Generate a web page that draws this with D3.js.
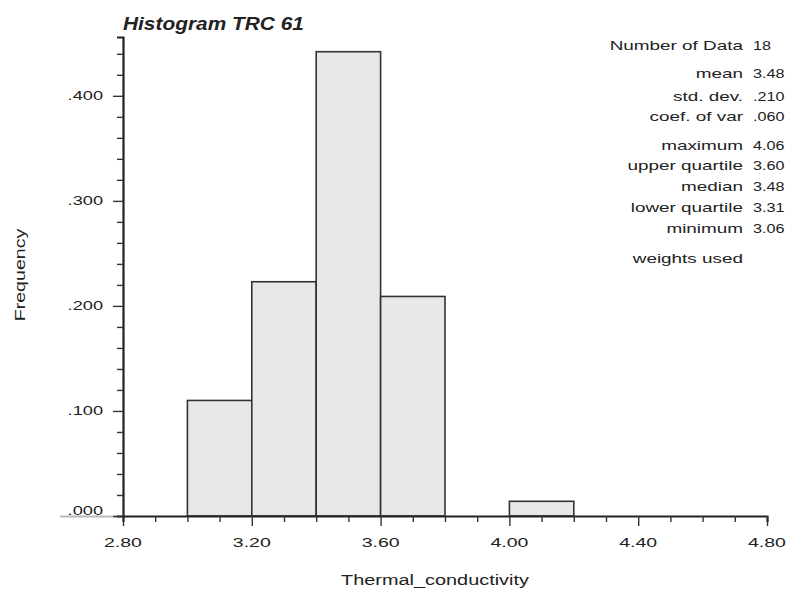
<!DOCTYPE html>
<html>
<head>
<meta charset="utf-8">
<script src="https://cdn.jsdelivr.net/npm/d3@7"></script>
<style>
  body { margin: 0; background: #fff; }
  text { font-family: "Liberation Sans", Arial, sans-serif; fill: #222; }
</style>
</head>
<body>
<svg id="chart"></svg>
<script>
// histogram classes (lower edge, upper edge) and their frequencies
const binStart = [3.0, 3.2, 3.4, 3.6, 3.8, 4.0];
const binEnd   = [3.2, 3.4, 3.6, 3.8, 4.0, 4.2];
const frequency = [0.110, 0.223, 0.442, 0.209, 0.0, 0.014];

const xTicks = [2.8, 3.2, 3.6, 4.0, 4.4, 4.8];
const yTicks = [0, 0.1, 0.2, 0.3, 0.4];

const statLabels = ["Number of Data", "mean", "std. dev.", "coef. of var",
  "maximum", "upper quartile", "median", "lower quartile", "minimum", "weights used"];
const statValues = ["18", "3.48", ".210", ".060",
  "4.06", "3.60", "3.48", "3.31", "3.06", ""];

const width = 787, height = 589;
const margin = {top: 37, right: 20, bottom: 73, left: 123};

const svg = d3.select("#chart").attr("width", width).attr("height", height);
const chart = svg.append("g").attr("transform", `translate(${margin.left},${margin.top})`);

const innerW = 767 - margin.left;
const innerH = 516 - margin.top;

const x = d3.scaleLinear().domain([2.8, 4.8]).range([0, innerW]);
const y = d3.scaleLinear().domain([0, 0.456]).range([innerH, 0]);

// the original plot uses a wide, horizontally stretched font
function stretch(sel, sx) {
  sel.each(function() {
    const t = d3.select(this);
    const tx = +t.attr("x"), ty = +t.attr("y");
    t.attr("x", 0).attr("y", 0)
      .attr("transform", `translate(${tx},${ty}) scale(${sx},1)`);
  });
}

// bars
chart.selectAll("rect.bar")
  .data(frequency.map((f, i) => ({x0: binStart[i], x1: binEnd[i], f})).filter(d => d.f > 0))
  .join("rect")
  .attr("class", "bar")
  .attr("x", d => x(d.x0))
  .attr("y", d => y(d.f))
  .attr("width", d => x(d.x1) - x(d.x0))
  .attr("height", d => innerH - y(d.f))
  .attr("fill", "#e8e8e8")
  .attr("stroke", "#333")
  .attr("stroke-width", 1.6);

// grey line under the .000 label
chart.append("line")
  .attr("x1", -63).attr("x2", 0)
  .attr("y1", innerH + 0.5).attr("y2", innerH + 0.5)
  .attr("stroke", "#bbb").attr("stroke-width", 2);

// x axis
const xAxis = d3.axisBottom(x)
  .tickValues(d3.range(28, 49).map(v => v / 10))
  .tickSize(6)
  .tickFormat("");
const xg = chart.append("g").attr("transform", `translate(0,${innerH})`).call(xAxis);
xg.select(".domain").attr("stroke", "#222").attr("stroke-width", 2.2);
xg.selectAll(".tick line").attr("stroke", "#333").attr("stroke-width", 1.4)
  .attr("y2", d => xTicks.some(t => Math.abs(t - d) < 1e-6) ? 10 : 6);
xg.selectAll(".tick text").remove();

chart.append("g").selectAll("text")
  .data(xTicks)
  .join("text")
  .attr("x", d => x(d))
  .attr("y", innerH + 31)
  .attr("text-anchor", "middle")
  .attr("font-size", 13)
  .text(d => d.toFixed(2))
  .call(stretch, 1.5);

// y axis
const yAxis = d3.axisLeft(y)
  .tickValues(d3.range(0, 23).map(v => v * 0.02))
  .tickSize(6)
  .tickFormat("");
const yg = chart.append("g").call(yAxis);
yg.select(".domain").attr("stroke", "#222").attr("stroke-width", 2.2);
yg.selectAll(".tick line").attr("stroke", "#333").attr("stroke-width", 1.4)
  .attr("x2", d => yTicks.some(t => Math.abs(t - d) < 1e-6) ? -10 : -6);

chart.append("g").selectAll("text")
  .data(yTicks)
  .join("text")
  .attr("x", -20)
  .attr("y", d => y(d) + (d === 0 ? -1 : 4))
  .attr("text-anchor", "end")
  .attr("font-size", 13)
  .text(d => d3.format(".3f")(d).replace(/^0/, ""))
  .call(stretch, 1.4);

// title
svg.append("text")
  .attr("x", 123).attr("y", 30)
  .attr("font-size", 18)
  .attr("font-weight", "bold")
  .attr("font-style", "italic")
  .text("Histogram TRC 61")
  .call(stretch, 1.16);

// axis labels
svg.append("text")
  .attr("x", 435).attr("y", 585)
  .attr("text-anchor", "middle")
  .attr("font-size", 14)
  .text("Thermal_conductivity")
  .call(stretch, 1.42);

svg.append("text")
  .attr("x", 25).attr("y", 275)
  .attr("text-anchor", "middle")
  .attr("font-size", 14)
  .text("Frequency")
  .each(function() {
    d3.select(this).attr("x", 0).attr("y", 0)
      .attr("transform", "translate(25,275) rotate(-90) scale(1.4,1)");
  });

// statistics block
const statY = [50, 78, 101, 121, 150, 170, 191, 212, 233, 263];
const stats = svg.append("g");
stats.selectAll("text.lab")
  .data(statLabels)
  .join("text")
  .attr("class", "lab")
  .attr("x", 743)
  .attr("y", (d, i) => statY[i])
  .attr("text-anchor", "end")
  .attr("font-size", 13.5)
  .text(d => d)
  .call(stretch, 1.4);
stats.selectAll("text.val")
  .data(statValues)
  .join("text")
  .attr("class", "val")
  .attr("x", 753)
  .attr("y", (d, i) => statY[i])
  .attr("font-size", 13.5)
  .text(d => d)
  .call(stretch, 1.2);
</script>
</body>
</html>
